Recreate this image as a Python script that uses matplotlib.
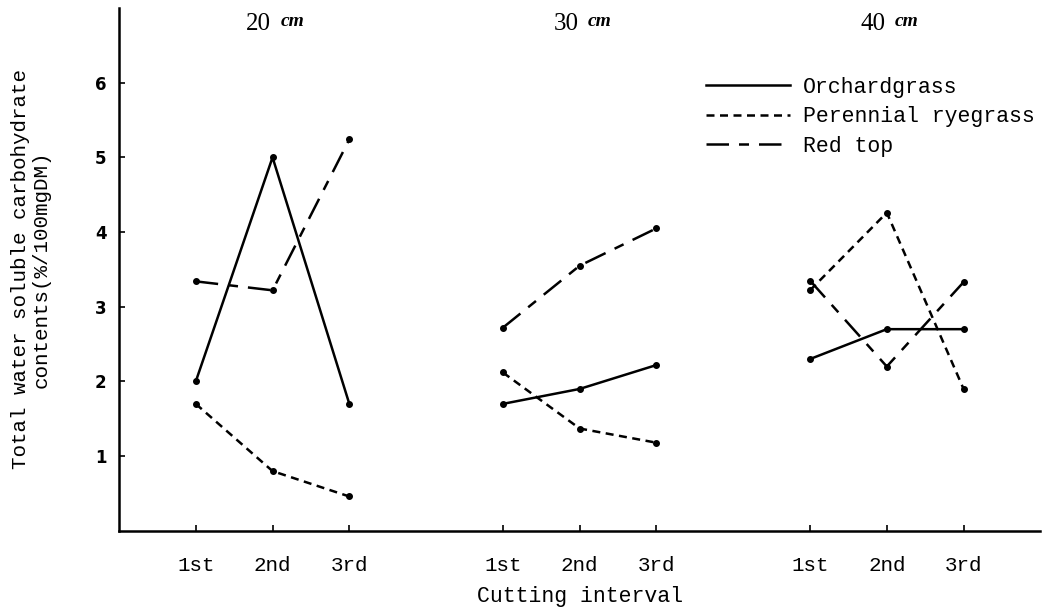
import matplotlib
matplotlib.use("Agg")
import matplotlib.pyplot as plt

# cutting heights and the three cuttings within each height
heights = ["20", "30", "40"]
cuttings = ["1st", "2nd", "3rd"]

# total water soluble carbohydrate (% / 100mg DM), one list per height
orchardgrass = [[2.0, 5.0, 1.7], [1.7, 1.9, 2.22], [2.3, 2.7, 2.7]]
perennial_ryegrass = [[1.7, 0.8, 0.46], [2.12, 1.37, 1.18], [3.22, 4.26, 1.9]]
red_top = [[3.34, 3.22, 5.24], [2.72, 3.55, 4.05], [3.35, 2.2, 3.33]]

mono = "Liberation Mono"

fig = plt.figure(figsize=(10.53, 6.13), dpi=100)
ax = fig.add_axes([0.113, 0.134, 0.875, 0.853])

styles = [
    ("Orchardgrass", orchardgrass, dict(linestyle="-")),
    ("Perennial ryegrass", perennial_ryegrass, dict(linestyle=(0, (3.2, 2.2)))),
    ("Red top", red_top, dict(linestyle=(0, (9, 4, 4, 4)))),
]

xpos = []
for g in range(len(heights)):
    xpos.append([4 * g + 1 + i for i in range(len(cuttings))])

for name, series, st in styles:
    for g, vals in enumerate(series):
        ax.plot(xpos[g], vals, color="black", lw=1.8, marker="o", ms=4,
                label=name if g == 0 else None, **st)

ax.set_xlim(0, 12)
ax.set_ylim(0, 7)
ax.set_xticks([x for grp in xpos for x in grp])
ax.set_xticklabels(cuttings * len(heights), fontfamily=mono, fontsize=15)
ax.set_yticks([1, 2, 3, 4, 5, 6])
ax.set_yticklabels(["1", "2", "3", "4", "5", "6"], fontweight="bold", fontsize=12)
ax.tick_params(direction="in", length=4, width=1.2, pad=9)
ax.tick_params(axis="x", pad=18)

for side in ("top", "right"):
    ax.spines[side].set_visible(False)
for side in ("left", "bottom"):
    ax.spines[side].set_linewidth(1.8)

# cutting height over each group
for g, h in enumerate(heights):
    xc = xpos[g][1]
    ax.annotate(h, (xc, 0.97), xycoords=("data", "axes fraction"),
                ha="right", va="center", fontfamily="Liberation Serif", fontsize=18,
                xytext=(-1, 0), textcoords="offset points")
    ax.annotate("cm", (xc, 0.974), xycoords=("data", "axes fraction"),
                ha="left", va="center", fontfamily="Liberation Serif", fontsize=14,
                fontstyle="italic", fontweight="bold",
                xytext=(6, 0), textcoords="offset points")

ax.set_xlabel("Cutting interval", fontfamily=mono, fontsize=15.5, labelpad=8)
ax.set_ylabel("Total water soluble carbohydrate\ncontents(%/100mgDM)",
              fontfamily=mono, fontsize=15, labelpad=32, linespacing=1.1)

leg = ax.legend(loc="upper left", bbox_to_anchor=(0.628, 0.885), frameon=False,
                prop={"family": mono, "size": 15.5}, handlelength=3.9,
                handletextpad=0.6, labelspacing=0.4, borderaxespad=0)
for line in leg.get_lines():
    line.set_marker("")

fig.savefig("out.png", dpi=100)
